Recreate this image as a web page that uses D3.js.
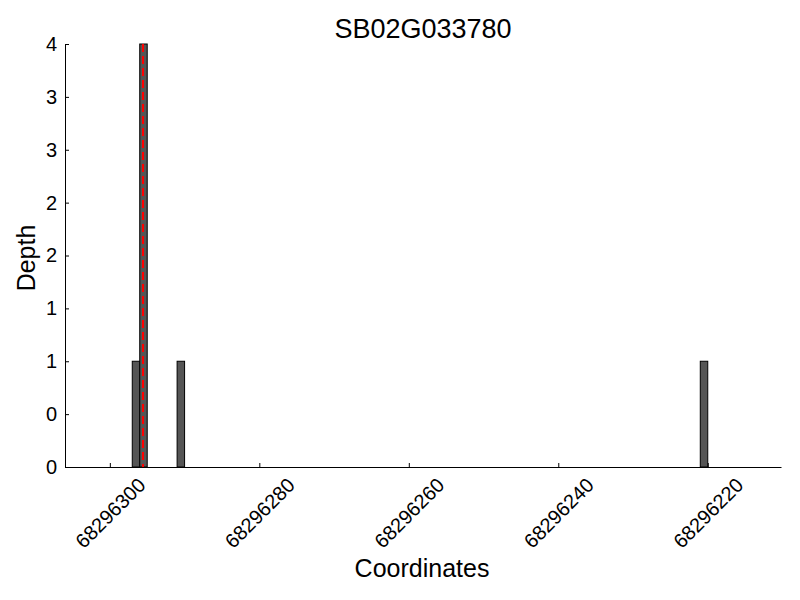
<!DOCTYPE html>
<html><head><meta charset="utf-8">
<script src="https://cdn.jsdelivr.net/npm/d3@7"></script>
<style>body{margin:0;background:#fff;} text{font-family:"Liberation Sans",Arial,sans-serif;}</style>
</head><body><svg id="c" width="800" height="600"></svg>
<script>
const title = "SB02G033780";
const barStarts = [68296297, 68296296, 68296291, 68296221];
const barDepths = [1, 4, 1, 1];
const barWidth = 1;
const markerPos = [68296295.5];
const yTickValues = [0, 0.5, 1, 1.5, 2, 2.5, 3, 3.5, 4];
const yTickLabels = ["0", "0", "1", "1", "2", "2", "3", "3", "4"];
const xTickValues = [68296300, 68296280, 68296260, 68296240, 68296220];
const xDomain = [68296306, 68296210.2];
const yDomain = [0, 4];

const svg = d3.select("#c");
const L = 65, R = 781, T = 44, B = 467;
const x = d3.scaleLinear().domain(xDomain).range([L, R]);
const y = d3.scaleLinear().domain(yDomain).range([B, T]);

// bars
svg.append("g").selectAll("rect").data(barStarts).enter().append("rect")
  .attr("x", d => x(d))
  .attr("width", d => x(d - barWidth) - x(d))
  .attr("y", (d, i) => y(barDepths[i]))
  .attr("height", (d, i) => y(0) - y(barDepths[i]))
  .attr("fill", "#555555").attr("stroke", "#000").attr("stroke-width", 1);

// marker line
svg.append("g").selectAll("line").data(markerPos).enter().append("line")
  .attr("x1", d => Math.round(x(d))).attr("x2", d => Math.round(x(d)))
  .attr("y1", y(yDomain[1])).attr("y2", y(0))
  .attr("stroke", "#ff0000").attr("stroke-width", 2).attr("stroke-dasharray", "8,4");

// axes
const yAxis = d3.axisLeft(y).tickValues(yTickValues).tickFormat((d, i) => yTickLabels[i]).tickSizeInner(-4).tickSizeOuter(0).tickPadding(8);
const gy = svg.append("g").attr("transform", `translate(${L},0)`).call(yAxis);
gy.selectAll("text").attr("font-size", 20).attr("fill", "#000");
gy.select(".domain").attr("stroke", "#000");

const xAxis = d3.axisBottom(x).tickValues(xTickValues).tickFormat(d3.format("d")).tickSizeInner(-4).tickSizeOuter(0);
const gx = svg.append("g").attr("transform", `translate(0,${B})`).call(xAxis);
gx.select(".domain").attr("stroke", "#000");
gx.selectAll("text").attr("font-size", 20).attr("fill", "#000")
  .attr("text-anchor", "middle").attr("dy", null).attr("y", null)
  .attr("dominant-baseline", "central")
  .attr("transform", "translate(0,46) rotate(-45)");

svg.append("text").attr("x", 423).attr("y", 38).attr("text-anchor", "middle").attr("font-size", 27).text(title);
svg.append("text").attr("x", 422).attr("y", 577).attr("text-anchor", "middle").attr("font-size", 25).text("Coordinates");
svg.append("text").attr("transform", "translate(35,258) rotate(-90)").attr("text-anchor", "middle").attr("font-size", 25).text("Depth");
</script></body></html>
